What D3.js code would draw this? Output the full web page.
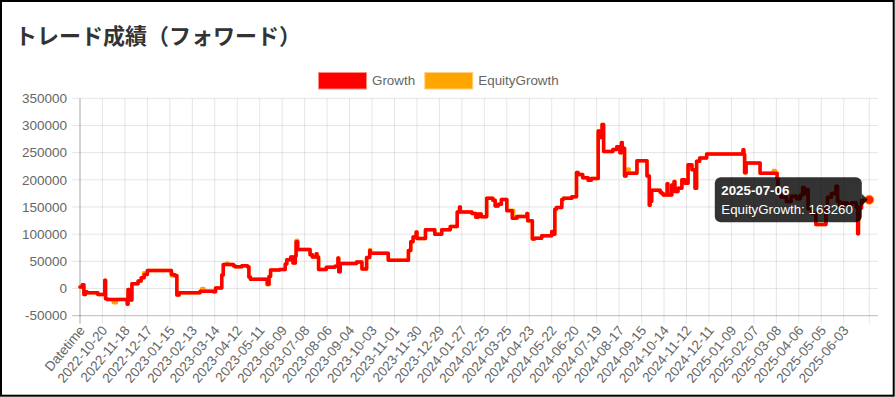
<!DOCTYPE html>
<html><head><meta charset="utf-8">
<script src="https://cdn.jsdelivr.net/npm/d3@7"></script>
<style>html,body{margin:0;padding:0;background:#fff;} svg{display:block}</style>
</head><body><svg id="c" width="895" height="397"></svg>
<script>
// ---- data ----
const titleText = "トレード成績（フォワード）";
const seriesNames = ["Growth", "EquityGrowth"];
const seriesColors = ["#ff0000", "#ffa500"];
const firstCategory = "Datetime";
const firstDate = "2022-09-22";
const lastDate = "2025-07-06";
const tickLabels = ["Datetime","2022-10-20","2022-11-18","2022-12-17","2023-01-15","2023-02-13","2023-03-14","2023-04-12","2023-05-11","2023-06-09","2023-07-08","2023-08-06","2023-09-04","2023-10-03","2023-11-01","2023-11-30","2023-12-29","2024-01-27","2024-02-25","2024-03-25","2024-04-23","2024-05-22","2024-06-20","2024-07-19","2024-08-17","2024-09-15","2024-10-14","2024-11-12","2024-12-11","2025-01-09","2025-02-07","2025-03-08","2025-04-06","2025-05-05","2025-06-03"];
const yTicks = [-50000,0,50000,100000,150000,200000,250000,300000,350000];
// step change points: [category index, value]
const growthSteps = [
 [0,3000],[3,7000],[5,-11000],[7,-6000],[9,-8000],[23,-11000],[32,15000],[33,-19000],[35,-20000],
 [61,-29000],[62,-2000],[63,-21000],[67,9000],[75,14000],[79,20000],[83,26000],[87,33000],
 [118,26000],[122,24000],[125,-12000],[128,-8000],[155,-5000],[172,-6000],[175,1000],[183,25000],[185,44000],
 [198,42000],[200,40000],[209,42000],[216,40000],[218,21000],[220,17000],[242,8000],[244,22000],[246,34000],[258,35000],
 [265,45000],[267,53000],[272,58000],[275,47000],[278,60000],[279,86000],[281,72000],[297,62000],[300,58000],[305,64000],[306,58000],[308,35000],
 [318,39000],[329,41000],[333,56000],[334,31000],[336,46000],[357,49000],[364,36000],[370,57000],[374,70000],[375,65000],
 [398,52000],[424,70000],[427,86000],[430,95000],[434,104000],[435,92000],[446,108000],[458,100000],[467,108000],[478,114000],
 [487,141000],[490,150000],[491,141000],[506,138000],[511,131000],[514,137000],[518,132000],[525,166000],[533,162500],[536,152000],[540,155000],[544,164000],
 [551,143000],[558,129500],[564,132500],[577,138000],[578,124500],[584,91000],[587,92500],[596,97000],[609,105000],[610,100000],
 [613,146000],[615,149000],[622,164000],[624,166000],[635,168700],[641,213500],[643,210000],[649,204000],[656,199000],[660,202500],
 [669,290000],[671,278000],[674,302000],[676,252000],[688,256000],[693,260700],[697,250000],[699,268700],[700,258000],[703,207000],[705,212000],
 [719,235000],[732,207000],[735,153000],[736,160000],[738,181000],[749,177000],[751,175000],[753,172000],[758,192600],[759,172000],[764,190700],[767,197000],[768,178400],[772,184600],[777,200000],[781,193800],[785,227800],[790,218500],[794,184600],[796,234000],[800,240000],[809,247500],
 [856,255500],[857,247000],[858,213000],[860,230800],[878,212000],[900,203000],[901,175000],[905,168000],[912,160000],[918,170000],[925,165000],[930,172000],[933,186000],[935,175000],[937,182000],[940,147000],[945,138000],[950,118000],[963,150000],[965,168000],[970,175000],[976,188000],[978,160000],[981,152000],[985,158000],[990,155000],[996,158000],[1002,150000],[1004,101000],[1005,130000],[1006,148000],[1009,162000],[1019,163260]
];
const equitySteps = [
 [0,3000],[3,7000],[5,-11000],[7,-6000],[9,-8000],[23,-11000],[32,15000],[33,-19000],[35,-20000],[43,-26000],[47,-20000],
 [61,-29000],[62,-2000],[63,-21000],[67,9000],[75,14000],[79,20000],[82,29000],[87,33000],
 [118,23000],[122,24000],[125,-12000],[128,-8000],[155,-5000],[157,0],[160,-5000],[172,-6000],[175,1000],[183,25000],[185,44000],[189,47000],[191,44000],
 [198,42000],[200,40000],[209,42000],[216,40000],[218,21000],[220,17000],[241,7000],[244,22000],[246,34000],[258,35000],
 [265,45000],[267,53000],[272,58000],[275,47000],[278,60000],[279,89000],[281,72000],[297,62000],[300,58000],[305,64000],[306,58000],[308,35000],
 [318,39000],[329,41000],[333,56000],[334,31000],[336,46000],[357,49000],[364,36000],[370,57000],[374,72000],[375,65000],
 [398,52000],[424,70000],[427,86000],[430,95000],[434,104000],[435,92000],[446,108000],[458,100000],[467,108000],[478,114000],
 [487,141000],[490,150000],[491,141000],[506,138000],[511,131000],[514,137000],[518,132000],[525,166000],[533,162500],[536,152000],[540,155000],[544,164000],
 [551,144000],[560,129500],[564,132500],[577,138000],[578,124500],[584,91000],[587,92500],[596,97000],[609,105000],[610,100000],
 [613,146000],[615,149000],[622,164000],[624,166000],[635,168700],[641,213500],[643,210000],[649,204000],[656,199000],[660,202500],
 [669,290000],[671,278000],[674,302000],[676,252000],[688,256000],[693,260700],[697,250000],[699,268700],[700,258000],[703,207000],[705,212000],[707,220000],[709,212000],
 [719,235000],[732,207000],[735,153000],[736,160000],[738,181000],[749,177000],[751,175000],[753,172000],[758,192600],[759,172000],[764,190700],[767,197000],[768,178400],[772,184600],[777,200000],[781,193800],[785,227800],[790,218500],[794,184600],[796,234000],[800,240000],[809,247500],
 [856,255500],[857,247000],[858,213000],[860,230800],[878,212000],[895,217000],[898,212000],[900,203000],[901,175000],[905,168000],[912,160000],[918,170000],[925,165000],[930,172000],[933,186000],[935,175000],[937,182000],[940,147000],[945,138000],[950,118000],[963,150000],[965,168000],[970,175000],[976,188000],[978,160000],[981,152000],[985,158000],[990,155000],[996,158000],[1002,150000],[1004,101000],[1005,130000],[1006,148000],[1009,162000],[1019,163260]
];
const tooltipDate = "2025-07-06";
const tooltipSeries = "EquityGrowth";
const tooltipValue = 163260;

(function () {
// ---- categories (one per day) ----
const parse = d3.utcParse("%Y-%m-%d"), fmt = d3.utcFormat("%Y-%m-%d");
const categories = [firstCategory].concat(
  d3.utcDays(parse(firstDate), d3.utcDay.offset(parse(lastDate), 1)).map(fmt));

// ---- layout ----
const svg = d3.select("#c");
const W = 895, H = 397;
const pLeft = 80, pRight = 869.3, areaRight = 878, pTop = 98.3, pBottom = 315.7;
const tickFont = "'Liberation Sans', Arial, Helvetica, sans-serif";

const x = d3.scalePoint().domain(categories).range([pLeft, pRight]);
const y = d3.scaleLinear().domain([-50000, 350000]).range([pBottom, pTop]);

svg.append("rect").attr("width", W).attr("height", H).attr("fill", "#fff");

// title
svg.append("text").attr("x", 15).attr("y", 44)
  .attr("font-family", "'Noto Sans CJK JP', sans-serif").attr("font-weight", 700)
  .attr("font-size", 22).attr("fill", "#333").text(titleText);

// legend
const legendX = [318.5, 424.8];
const legendFill = ["#ff0000", "#ffa500"], legendStroke = ["#ff8a80", "#ffd080"];
const legend = svg.append("g");
seriesNames.forEach((n, i) => {
  legend.append("rect").attr("x", legendX[i]).attr("y", 72.5).attr("width", 48).attr("height", 16.5)
    .attr("fill", legendFill[i]).attr("stroke", legendStroke[i]).attr("stroke-width", 1);
  legend.append("text").attr("x", legendX[i] + 53.5).attr("y", 80.8).attr("dy", "0.35em")
    .attr("font-family", tickFont).attr("font-size", 13.4).attr("fill", "#666").text(n);
});

// grid
const grid = svg.append("g");
yTicks.forEach(t => {
  grid.append("line").attr("x1", 72).attr("x2", areaRight).attr("y1", y(t)).attr("y2", y(t))
    .attr("stroke", "rgba(0,0,0,0.1)").attr("stroke-width", 1);
});
const vTicks = tickLabels.concat([categories[categories.length - 1]]);
vTicks.forEach(c => {
  grid.append("line").attr("x1", x(c)).attr("x2", x(c)).attr("y1", pTop).attr("y2", pBottom + 8)
    .attr("stroke", "rgba(0,0,0,0.1)").attr("stroke-width", 1);
});
grid.append("line").attr("x1", pLeft).attr("x2", pLeft).attr("y1", pTop).attr("y2", pBottom + 8)
  .attr("stroke", "rgba(0,0,0,0.25)");
grid.append("line").attr("x1", 72).attr("x2", areaRight).attr("y1", pBottom).attr("y2", pBottom)
  .attr("stroke", "rgba(0,0,0,0.18)");

// y labels
svg.append("g").selectAll("text").data(yTicks).join("text")
  .attr("x", 67).attr("y", d => y(d)).attr("dy", "0.35em").attr("text-anchor", "end")
  .attr("font-family", tickFont).attr("font-size", 13.5).attr("fill", "#666").text(d => d);

// x labels
svg.append("g").selectAll("text").data(tickLabels).join("text")
  .attr("transform", d => `translate(${x(d) + 2},${pBottom + 12}) rotate(-50)`)
  .attr("text-anchor", "end").attr("dy", "0.35em")
  .attr("font-family", tickFont).attr("font-size", 13.5).attr("fill", "#666").text(d => d);

// lines
const line = d3.line().x(d => x(categories[d[0]])).y(d => y(d[1])).curve(d3.curveStepAfter);
const plot = svg.append("g");
[[equitySteps, seriesColors[1]], [growthSteps, seriesColors[0]]].forEach(([s, c]) => {
  plot.append("path").attr("d", line(s)).attr("fill", "none").attr("stroke", c)
    .attr("stroke-width", 3.5).attr("stroke-linejoin", "round").attr("stroke-linecap", "round");
});

// hover point
const last = equitySteps[equitySteps.length - 1];
const px = x(categories[last[0]]), py = y(last[1]);
svg.append("circle").attr("cx", px).attr("cy", py).attr("r", 4.5)
  .attr("fill", "#ff2000").attr("stroke", "#ffa500").attr("stroke-width", 1);

// tooltip
const tt = svg.append("g");
const tw = 147, th = 45, tx = px - 7.5 - tw, ty = py - th / 2;
tt.append("rect").attr("x", tx).attr("y", ty).attr("width", tw).attr("height", th).attr("rx", 6)
  .attr("fill", "rgba(0,0,0,0.8)");
tt.append("path").attr("d", `M${tx + tw},${py - 6}L${tx + tw + 6},${py}L${tx + tw},${py + 6}Z`)
  .attr("fill", "rgba(0,0,0,0.8)");
tt.append("text").attr("x", tx + 6.5).attr("y", ty + 17.3).attr("font-family", tickFont)
  .attr("font-weight", 700).attr("font-size", 13.3).attr("fill", "#fff").text(tooltipDate);
tt.append("text").attr("x", tx + 6.5).attr("y", ty + 36.3).attr("font-family", tickFont)
  .attr("font-size", 13.3).attr("fill", "#fff").text(`${tooltipSeries}: ${tooltipValue}`);

// frame
svg.append("rect").attr("x", 1).attr("y", 1).attr("width", 892.7).attr("height", 394.7)
  .attr("fill", "none").attr("stroke", "#000").attr("stroke-width", 2);
})();
</script></body></html>
